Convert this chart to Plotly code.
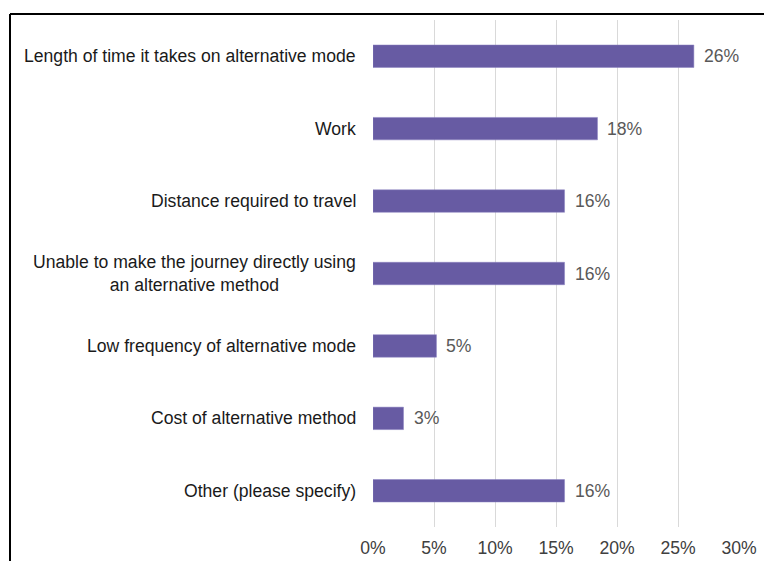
import plotly.graph_objects as go

categories = [
    "Length of time it takes on alternative mode",
    "Work",
    "Distance required to travel",
    "Unable to make the journey directly using<br>an alternative method",
    "Low frequency of alternative mode",
    "Cost of alternative method",
    "Other (please specify)",
]
values = [0.263, 0.184, 0.157, 0.157, 0.052, 0.025, 0.157]
value_labels = ["26%", "18%", "16%", "16%", "5%", "3%", "16%"]
x_ticks = [0, 0.05, 0.10, 0.15, 0.20, 0.25, 0.30]
x_tick_labels = ["0%", "5%", "10%", "15%", "20%", "25%", "30%"]

FONT = "Liberation Sans, Arial, sans-serif"
FS = 17.6
W, H = 764, 561
L, R, T, B = 373, 25, 20, 34

fig = go.Figure()
fig.add_trace(go.Bar(
    x=values, y=categories, orientation="h",
    marker=dict(color="#675BA3", line=dict(color="#8A80C0", width=0.5)),
    width=0.31, hoverinfo="skip",
))

annotations = []
for c, v, lab in zip(categories, values, value_labels):
    annotations.append(dict(x=v, y=c, xref="x", yref="y", text=lab, showarrow=False,
                            xanchor="left", xshift=8, font=dict(family=FONT, size=FS, color="#595959")))
    annotations.append(dict(x=0, y=c, xref="paper", yref="y", text=c, showarrow=False,
                            xanchor="right", xshift=-15, align="center",
                            font=dict(family=FONT, size=FS, color="#1a1a1a")))

plot_w = W - L - R
plot_h = H - T - B
fig.update_layout(
    width=W, height=H,
    margin=dict(l=L, r=R, t=T, b=B, pad=0, autoexpand=False),
    paper_bgcolor="white", plot_bgcolor="white",
    showlegend=False,
    annotations=annotations,
    xaxis=dict(range=[0, 0.30], tickvals=x_ticks, ticktext=x_tick_labels,
               showgrid=True, gridcolor="#D9D9D9", gridwidth=1.3,
               zeroline=False, showline=False, ticks="", automargin=False,
               tickfont=dict(family=FONT, size=FS, color="#404040"),
               ticklabelstandoff=8, fixedrange=True),
    yaxis=dict(autorange="reversed", showticklabels=False, showgrid=False,
               zeroline=False, showline=False, ticks="", automargin=False, fixedrange=True),
    shapes=[
        dict(type="line", xref="paper", yref="paper",
             x0=(10 - L) / plot_w, x1=(W + 10 - L) / plot_w,
             y0=1 + (T - 14) / plot_h, y1=1 + (T - 14) / plot_h,
             line=dict(color="black", width=2)),
        dict(type="line", xref="paper", yref="paper",
             x0=(10 - L) / plot_w, x1=(10 - L) / plot_w,
             y0=1 + (T - 14) / plot_h, y1=-(B + 10) / plot_h,
             line=dict(color="black", width=2)),
    ],
)

fig.write_html("out.html")
